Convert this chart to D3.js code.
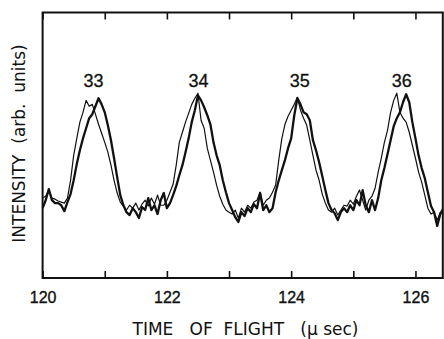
<!DOCTYPE html>
<html>
<head>
<meta charset="utf-8">
<script src="https://cdn.jsdelivr.net/npm/d3@7/dist/d3.min.js"></script>
<style>
	body{margin:0;background:#fff}
	svg{display:block}
	text{font-family:'Liberation Sans',Arial,sans-serif;fill:#111}
	.axis-title{font-family:'DejaVu Sans',sans-serif;white-space:pre}
</style>
</head>
<body>
<script>
// sampling grid of the scan (μs)
var timeStart = 120, timeStep = 0.05

// intensity, arb. units (thin trace = first run, thick trace = second run)
var thinCurve = [
	30.1,30.8,33.1,30.1,29.7,29.0,28.6,28.2,30.1,36.8,
	46.2,52.6,58.7,62.4,66.9,64.7,65.4,61.7,57.9,54.5,
	51.1,47.4,42.5,36.8,32.0,28.6,27.1,25.6,27.4,26.3,
	28.2,25.6,27.8,29.3,27.1,30.1,27.8,31.2,27.4,27.4,
	29.3,32.3,35.3,42.5,51.1,54.9,58.7,62.0,65.4,67.7,
	69.6,59.4,56.4,48.9,44.4,39.9,35.0,30.8,27.8,25.6,
	24.8,24.1,25.6,22.6,26.3,24.8,27.4,26.3,28.6,29.3,
	32.3,27.4,29.3,30.1,32.3,35.0,44.4,52.6,57.9,60.9,
	63.2,65.4,68.1,63.2,60.2,57.5,51.9,46.2,40.6,36.8,
	31.6,28.2,25.6,24.8,26.3,23.7,25.6,27.4,27.1,29.3,
	27.8,30.8,33.1,29.3,25.6,29.3,30.8,33.8,39.9,45.1,
	51.1,55.6,62.4,66.9,69.6,62.4,60.2,58.7,54.9,50.0,
	45.1,39.9,36.1,31.2,26.3,24.1,24.8,21.8,24.8,24.1
]
var thickCurve = [
	26.3,29.3,33.5,29.3,28.2,28.2,27.4,25.2,28.6,31.6,
	36.8,42.9,48.1,52.6,56.4,60.2,61.7,64.7,67.7,65.4,
	62.4,57.5,51.9,45.1,38.0,31.2,27.4,24.8,23.7,26.3,
	24.8,22.6,26.7,25.6,30.1,25.6,27.4,24.1,29.3,32.0,
	26.3,28.2,31.2,34.6,38.7,42.5,47.4,52.6,58.7,63.2,
	68.8,66.9,64.3,61.3,57.9,51.1,46.2,42.5,36.8,32.3,
	28.2,25.6,22.9,21.1,24.8,23.3,26.3,24.8,27.8,26.3,
	32.0,25.6,27.4,24.8,26.3,32.3,36.8,40.6,44.4,48.9,
	52.6,61.3,67.7,65.4,62.4,61.7,59.4,51.9,48.1,43.6,
	38.4,33.1,28.2,25.6,24.4,21.8,24.8,26.3,24.8,27.4,
	25.6,29.3,27.4,33.1,27.4,24.8,29.3,25.6,30.1,36.8,
	41.4,46.6,51.9,57.2,60.2,62.4,66.2,69.2,66.2,58.7,
	52.6,46.2,41.4,37.6,32.3,27.1,24.8,19.6,24.1,26.3
]

var peakLabels = ['33','34','35','36']
var peakTimes  = [120.82,122.51,124.14,125.78]
var peakLabelLevel = 72

var xTicks      = [120,121,122,123,124,125,126]
var xTickLabels = ['120','','122','','124','','126']

var W = 444, H = 339
var margin = {top:12.5, right:1.2, bottom:61, left:42.6}

var svg = d3.select('body').append('svg').attr('width',W).attr('height',H)

var x = d3.scaleLinear().domain([120,126.44]).range([margin.left,W-margin.right])
var y = d3.scaleLinear().domain([0,100]).range([H-margin.bottom,margin.top])

var times = thinCurve.map(function(d,i){ return timeStart + i*timeStep })

svg.append('clipPath').attr('id','plot-clip')
	.append('rect')
	.attr('x',x.range()[0]).attr('y',y.range()[1])
	.attr('width',x.range()[1]-x.range()[0])
	.attr('height',y.range()[0]-y.range()[1])

var line = d3.line()
	.x(function(d,i){ return x(times[i]) })
	.y(function(d){ return y(d) })

var curves = svg.append('g').attr('id','curves').attr('clip-path','url(#plot-clip)')
curves.append('path').datum(thinCurve).attr('d',line)
	.attr('fill','none').attr('stroke','#111').attr('stroke-width',1.2).attr('stroke-linejoin','round')
curves.append('path').datum(thickCurve).attr('d',line)
	.attr('fill','none').attr('stroke','#111').attr('stroke-width',2.3).attr('stroke-linejoin','round')

// frame
svg.append('rect')
	.attr('x',x.range()[0]).attr('y',y.range()[1])
	.attr('width',x.range()[1]-x.range()[0])
	.attr('height',y.range()[0]-y.range()[1])
	.attr('fill','none').attr('stroke','#111').attr('stroke-width',2)

var bottomAxis = svg.append('g').attr('transform','translate(0,'+y.range()[0]+')')
	.call(d3.axisBottom(x).tickValues(xTicks).tickSize(-7).tickPadding(13.6)
		.tickFormat(function(d,i){ return xTickLabels[i] }))
bottomAxis.select('.domain').remove()
bottomAxis.selectAll('line').attr('stroke','#111').attr('stroke-width',1.6)
bottomAxis.selectAll('text').attr('font-size',16).attr('fill','#111')
	.attr('stroke','#111').attr('stroke-width',0.35)
	.style('font-family','Liberation Sans, Arial, sans-serif')

var topAxis = svg.append('g').attr('transform','translate(0,'+y.range()[1]+')')
	.call(d3.axisTop(x).tickValues(xTicks).tickSize(-7).tickFormat(''))
topAxis.select('.domain').remove()
topAxis.selectAll('line').attr('stroke','#111').attr('stroke-width',1.6)

// peak numbers
svg.append('g').attr('id','peak-labels').selectAll('text')
	.data(peakLabels).enter().append('text')
	.attr('x',function(d,i){ return x(peakTimes[i]) })
	.attr('y',y(peakLabelLevel))
	.attr('text-anchor','middle').attr('font-size',18)
	.attr('stroke','#111').attr('stroke-width',0.3)
	.text(function(d){ return d })

svg.append('text').attr('class','axis-title')
	.attr('x',245.5).attr('y',335)
	.attr('text-anchor','middle').attr('font-size',17)
	.text('TIME   OF  FLIGHT   (\u00b5 sec)')

svg.append('text').attr('class','axis-title')
	.attr('transform','translate(25,143.5) rotate(-90)')
	.attr('text-anchor','middle').attr('font-size',17)
	.text('INTENSITY  (arb.  units)')
</script>
</body>
</html>
